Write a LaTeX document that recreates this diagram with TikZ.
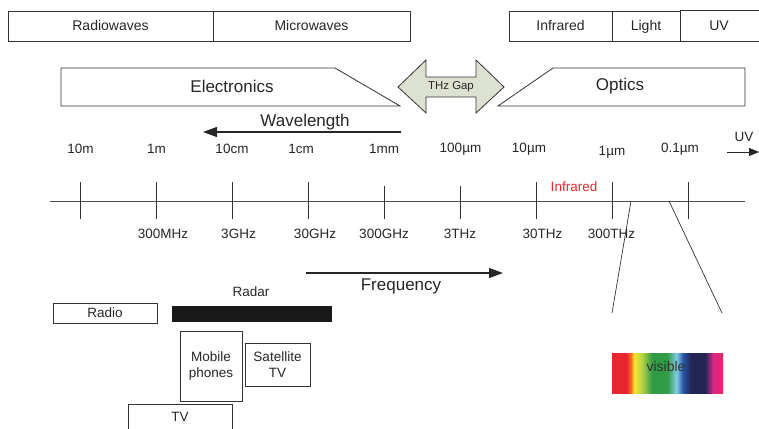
\documentclass[tikz,border=0pt]{standalone}
\usepackage{fontspec}
\setmainfont{Liberation Sans}
\usetikzlibrary{arrows.meta}

\definecolor{sRed}{RGB}{232,38,47}
\definecolor{sOrange}{RGB}{242,110,34}
\definecolor{sYellow}{RGB}{250,228,45}
\definecolor{sLime}{RGB}{180,210,70}
\definecolor{sGreen}{RGB}{50,155,70}
\definecolor{sCyan}{RGB}{130,205,230}
\definecolor{sBlue}{RGB}{40,85,165}
\definecolor{sNavy}{RGB}{35,38,85}
\definecolor{sMagenta}{RGB}{215,40,135}
\definecolor{sPink}{RGB}{235,35,100}
\definecolor{gapfill}{RGB}{221,226,208}
\definecolor{irred}{RGB}{232,38,47}

\pgfdeclarehorizontalshading{visspec}{100bp}{color(0bp)=(sRed); color(25bp)=(sRed); color(31.5bp)=(sRed);
  color(33.5bp)=(sOrange); color(35bp)=(sYellow); color(38.5bp)=(sLime); color(43bp)=(sGreen);
  color(50bp)=(sGreen); color(54bp)=(sCyan); color(57bp)=(sBlue); color(60.5bp)=(sNavy);
  color(67bp)=(sNavy); color(70.5bp)=(sMagenta); color(75bp)=(sPink); color(100bp)=(sPink)}

\tikzset{
  band/.style={draw=black!80,line width=0.8pt,minimum height=30pt,inner sep=0pt,
    text height=10pt,text depth=0pt,text=black!85,font=\fontsize{14}{16}\selectfont},
  big/.style={text=black!85,font=\fontsize{17}{19}\selectfont},
  lbl/.style={text=black!85,font=\fontsize{13.5}{15}\selectfont},
  usebox/.style={draw=black!80,line width=0.8pt,inner sep=0pt,align=center,
    text=black!85,font=\fontsize{13.5}{16}\selectfont},
  ln/.style={draw=black!80,line width=0.8pt},
  bigarrow/.style={draw=black!85,line width=1.2pt,-{Triangle[length=14pt,width=10pt]}}
}

\begin{document}
\begin{tikzpicture}[x=1pt,y=-1pt]
\useasboundingbox (0,0) rectangle (759,428);
\clip (0,0) rectangle (759,428);

\node[band,minimum width=205pt] (radiow) at (110.5,26) {Radiowaves};
\node[band,minimum width=197pt] (microw) at (311.5,26) {Microwaves};
\node[band,minimum width=103pt] (infraw) at (560.5,26) {Infrared};
\node[band,minimum width=68pt] (lightw) at (646,26) {Light};
\node[band,draw=none,minimum width=78pt] (uvw) at (719,26) {UV};
\draw[ln] (lightw.north east) -- (uvw.north east) -- ++(10,0);
\draw[ln] (lightw.south east) -- (uvw.south east) -- ++(10,0);

\draw[ln] (61,68) -- (335,68) -- (400,106) -- (61,106) -- cycle;
\node[big] (elec) at (232,86) {Electronics};
\draw[ln] (553,68) -- (745,68) -- (745,106) -- (498,106) -- cycle;
\node[big] (optics) at (620,86) {Optics};
\draw[ln,fill=gapfill] (398,87) -- (426,60) -- (426,77) -- (476,77) -- (476,60) -- (504,87)
  -- (476,113) -- (476,97) -- (426,97) -- (426,113) -- cycle;
\node[text=black!85,font=\fontsize{11.4}{13}\selectfont] (gap) at (451,87) {THz Gap};

\node[big] (wavel) at (305,122) {Wavelength};
\coordinate (wlA) at (401,132);
\coordinate (wlB) at (203,132);
\draw[bigarrow] (wlA) -- (wlB);

\foreach \x/\l [count=\i] in {80.5/10m,156.5/1m,232/10cm,301/1cm,384/1mm,460.5/100µm,529/10µm,680/0.1µm}
  \node[lbl] (wl\i) at (\x,149) {\l};
\node[lbl] (wlum) at (612,152.5) {1µm};
\node[lbl] (uvlbl) at (744,137) {UV};
\coordinate (uvA) at (727,152);
\coordinate (uvB) at (759,152);
\draw[draw=black!85,line width=1pt,-{Triangle[length=10pt,width=8pt]}] (uvA) -- (uvB);

\coordinate (axL) at (50,201);
\coordinate (axR) at (745,201);
\draw[ln,draw=black!70] (axL) -- (axR);
\foreach \x/\t in {80.3/182,156.3/182,232.3/182,308.3/182,384/186,460/186,536/182,612/182,688/182}
  \draw[ln] (\x,\t) -- (\x,219);
\node[lbl,text=irred] (irlbl) at (574,187) {Infrared};

\foreach \x/\l [count=\i] in {163/300MHz,238.5/3GHz,315/30GHz,384/300GHz,460/3THz,542.5/30THz,611.5/300THz}
  \node[lbl] (fq\i) at (\x,233.5) {\l};

\coordinate (zmA) at (631,201);
\coordinate (zmB) at (612,313);
\coordinate (zmC) at (669,201);
\coordinate (zmD) at (722,313);
\draw[ln,line width=0.7pt] (zmA) -- (zmB);
\draw[ln,line width=0.7pt] (zmC) -- (zmD);

\coordinate (fqA) at (306,273);
\coordinate (fqB) at (503,273);
\draw[bigarrow] (fqA) -- (fqB);
\node[big] (freq) at (401,286) {Frequency};

\node[usebox,minimum width=104pt,minimum height=20pt] (radio) at (105,313) {Radio};
\node[lbl] (radarlbl) at (251,292) {Radar};
\node[fill=black!90,inner sep=0pt,minimum width=160pt,minimum height=16pt] (radar) at (252,314) {};
\node[usebox,minimum width=62pt,minimum height=70pt] (mobile) at (211,366) {Mobile\\phones};
\node[usebox,minimum width=65pt,minimum height=43pt] (sat) at (277.5,364.5) {Satellite\\TV};
\draw[ln] (128,440) -- (128,404) -- (232,404) -- (232,440);
\node[lbl] (tv) at (180,416.5) {TV};

\shade[shading=visspec] (612,353) rectangle (723,393);
\node[text=black!80,font=\fontsize{14}{16}\selectfont] (vis) at (666,366) {visible};
\end{tikzpicture}
\end{document}
